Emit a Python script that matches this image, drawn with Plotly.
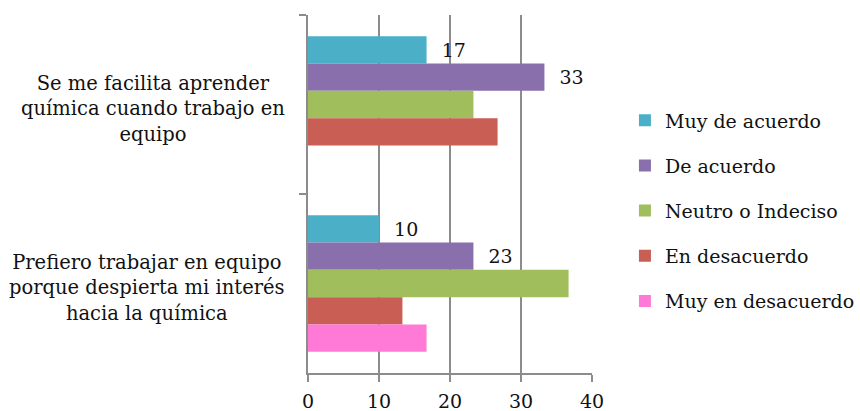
import plotly.graph_objects as go

categories = [
    "Se me facilita aprender<br>química cuando trabajo en<br>equipo",
    "Prefiero trabajar en equipo<br>porque despierta mi interés<br>hacia la química",
]
series_names = ["Muy de acuerdo", "De acuerdo", "Neutro o Indeciso", "En desacuerdo", "Muy en desacuerdo"]
muy_de_acuerdo = [16.7, 10.0]
de_acuerdo = [33.3, 23.3]
neutro = [23.3, 36.7]
en_desacuerdo = [26.7, 13.3]
muy_en_desacuerdo = [0, 16.7]
series_values = [muy_de_acuerdo, de_acuerdo, neutro, en_desacuerdo, muy_en_desacuerdo]
show_labels = [True, True, False, False, False]
colors = ["#4BAFC8", "#8A6FAD", "#A0BE5C", "#C95E55", "#FF7AD6"]
x_ticks = [0, 10, 20, 30, 40]

FONT = "DejaVu Serif"
GRID = "#8c8c8c"
TXT = "#111111"

fig = go.Figure()
for name, vals, lab, col in zip(series_names, series_values, show_labels, colors):
    fig.add_trace(go.Bar(
        y=categories, x=vals, name=name, orientation="h",
        marker=dict(color=col, line=dict(width=0)),
        legendgroup=name,
        text=[f"{v:.0f}" for v in vals] if lab else None,
        texttemplate="\u00a0\u00a0%{text}" if lab else None,
        textposition="outside" if lab else "none",
        textfont=dict(family=FONT, size=19, color=TXT),
        cliponaxis=False,
    ))

for c in categories:
    fig.add_annotation(
        xref="paper", yref="y", x=0, y=c, text=c, showarrow=False,
        xanchor="right", yanchor="middle", align="center", xshift=-21, yshift=-4,
        font=dict(family=FONT, size=19.5, color=TXT),
    )

fig.update_layout(
    width=860, height=411,
    margin=dict(l=308, r=268, t=15, b=38, autoexpand=False),
    paper_bgcolor="white", plot_bgcolor="white",
    barmode="group", bargap=0.237, bargroupgap=0,
    font=dict(family=FONT, size=18, color=TXT),
    showlegend=True,
    legend=dict(
        x=1.116, xanchor="left", y=0.453, yanchor="middle",
        traceorder="grouped", tracegroupgap=17.5,
        font=dict(family=FONT, size=19, color=TXT),
        bgcolor="rgba(0,0,0,0)",
    ),
    xaxis=dict(
        range=[0, 40], tickvals=x_ticks, ticktext=[str(t) for t in x_ticks],
        showgrid=True, gridcolor=GRID, gridwidth=1.5,
        showline=True, linecolor=GRID, linewidth=1.5,
        ticks="outside", ticklen=7, tickcolor=GRID, tickwidth=1.5,
        ticklabelstandoff=3,
        zeroline=False, tickfont=dict(family=FONT, size=19, color=TXT),
        fixedrange=True,
    ),
    yaxis=dict(
        autorange="reversed", type="category",
        showticklabels=False, showgrid=False,
        showline=True, linecolor=GRID, linewidth=1.5,
        ticks="outside", ticklen=7, tickcolor=GRID, tickwidth=1.5,
        tickson="boundaries", zeroline=False, fixedrange=True,
    ),
)

fig.write_html("out.html")
